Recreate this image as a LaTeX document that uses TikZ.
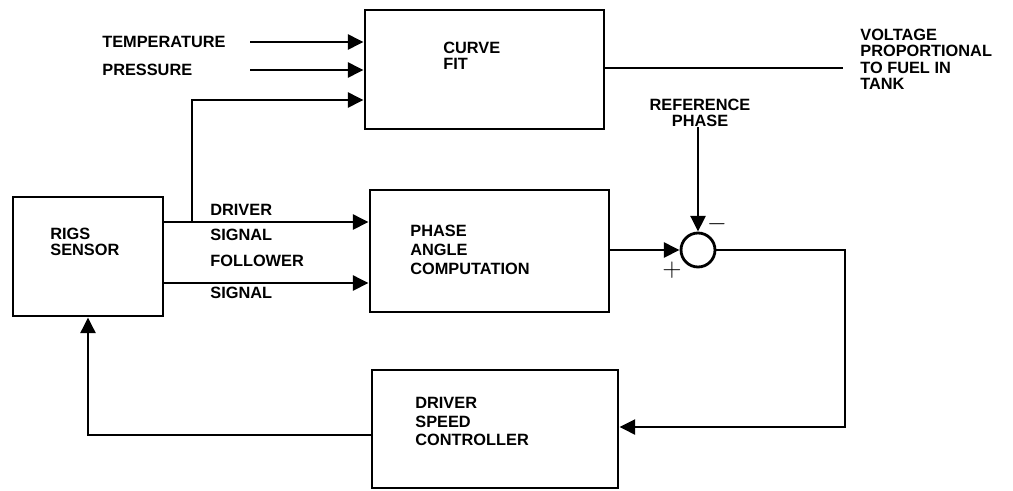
\documentclass[tikz,border=0pt]{standalone}
\usepackage{fontspec}
\setmainfont{Liberation Sans}
\usetikzlibrary{arrows.meta, positioning, calc}

\begin{document}
\begin{tikzpicture}[
  x=0.02cm, y=-0.02cm,
  blk/.style={draw, line width=1.6pt, inner sep=0pt},
  sumj/.style={draw, circle, line width=1.6pt, minimum size={34*0.02cm}, inner sep=0pt},
  lbl/.style={font=\bfseries\fontsize{9.3}{9.2}\selectfont, align=left, inner sep=0pt},
  blktxt/.style={lbl, font=\bfseries\fontsize{9.3}{10.6}\selectfont},
  arr/.style={-{Triangle[length=9pt, width=8.5pt]}, line width=1.6pt},
  ln/.style={line width=1.6pt}
]
\useasboundingbox (0,0) rectangle (1013,490);
% blocks
\node[blk, minimum width={239*0.02cm}, minimum height={119*0.02cm}] (fit) at (484.5,69.5) {};
\node[blk, minimum width={150*0.02cm}, minimum height={119*0.02cm}] (rigs) at (88,256.5) {};
\node[blk, minimum width={239*0.02cm}, minimum height={122*0.02cm}] (phase) at (489.5,251) {};
\node[blk, minimum width={246*0.02cm}, minimum height={118*0.02cm}] (ctrl) at (495,429) {};
\node[sumj] (sum) at (698,250) {};
% texts
\node[lbl, anchor=north west] (fittxt) at (443,42) {CURVE\\FIT};
\node[lbl, anchor=north west] (rigstxt) at (50,228) {RIGS\\SENSOR};
\node[blktxt, anchor=north west] (phasetxt) at (410,225) {PHASE\\ANGLE\\COMPUTATION};
\node[blktxt, anchor=north west] (ctrltxt) at (415,397) {DRIVER\\SPEED\\CONTROLLER};
\node[lbl, anchor=west] (temp) at (102,42) {TEMPERATURE};
\node[lbl, anchor=west] (press) at (102,70) {PRESSURE};
\node[lbl, anchor=west] (drv) at (210,222) {DRIVER\\[5pt]SIGNAL};
\node[lbl, anchor=west] (fol) at (210,277) {FOLLOWER\\[9pt]SIGNAL};
\node[lbl, align=center] (ref) at (700,113) {REFERENCE\\PHASE};
\node[lbl, anchor=north west] (volt) at (860,29) {VOLTAGE\\PROPORTIONAL\\TO FUEL IN\\TANK};
\node[font=\Large\bfseries, inner sep=0pt] (minus) at (717,224) {$-$};
\node[font=\Large\bfseries, inner sep=0pt] (plus) at (672,270) {$+$};
% inputs to curve fit
\draw[arr] (250,42) -- (fit.west |- temp);
\draw[arr] (250,70) -- (fit.west |- press);
% sensor outputs
\coordinate (br) at (192,222);
\draw[arr] (rigs.east |- br) -- (phase.west |- br);
\draw[arr] (rigs.east |- 0,283) -- (phase.west |- 0,283);
\draw[arr] (br) -- (192,100) -- (fit.west |- 0,100);
% fuel output
\draw[ln] (fit.east |- 0,68) -- (843,68);
% summing junction
\draw[arr] (phase.east |- sum) -- (sum.west);
\draw[arr] (sum |- 0,127) -- (sum.north);
\draw[arr] (sum.east) -- (845,250) -- (845,427) -- (ctrl.east |- 0,427);
% feedback
\draw[arr] (ctrl.west |- 0,435) -- (88,435) -- (rigs.south);
\end{tikzpicture}
\end{document}
